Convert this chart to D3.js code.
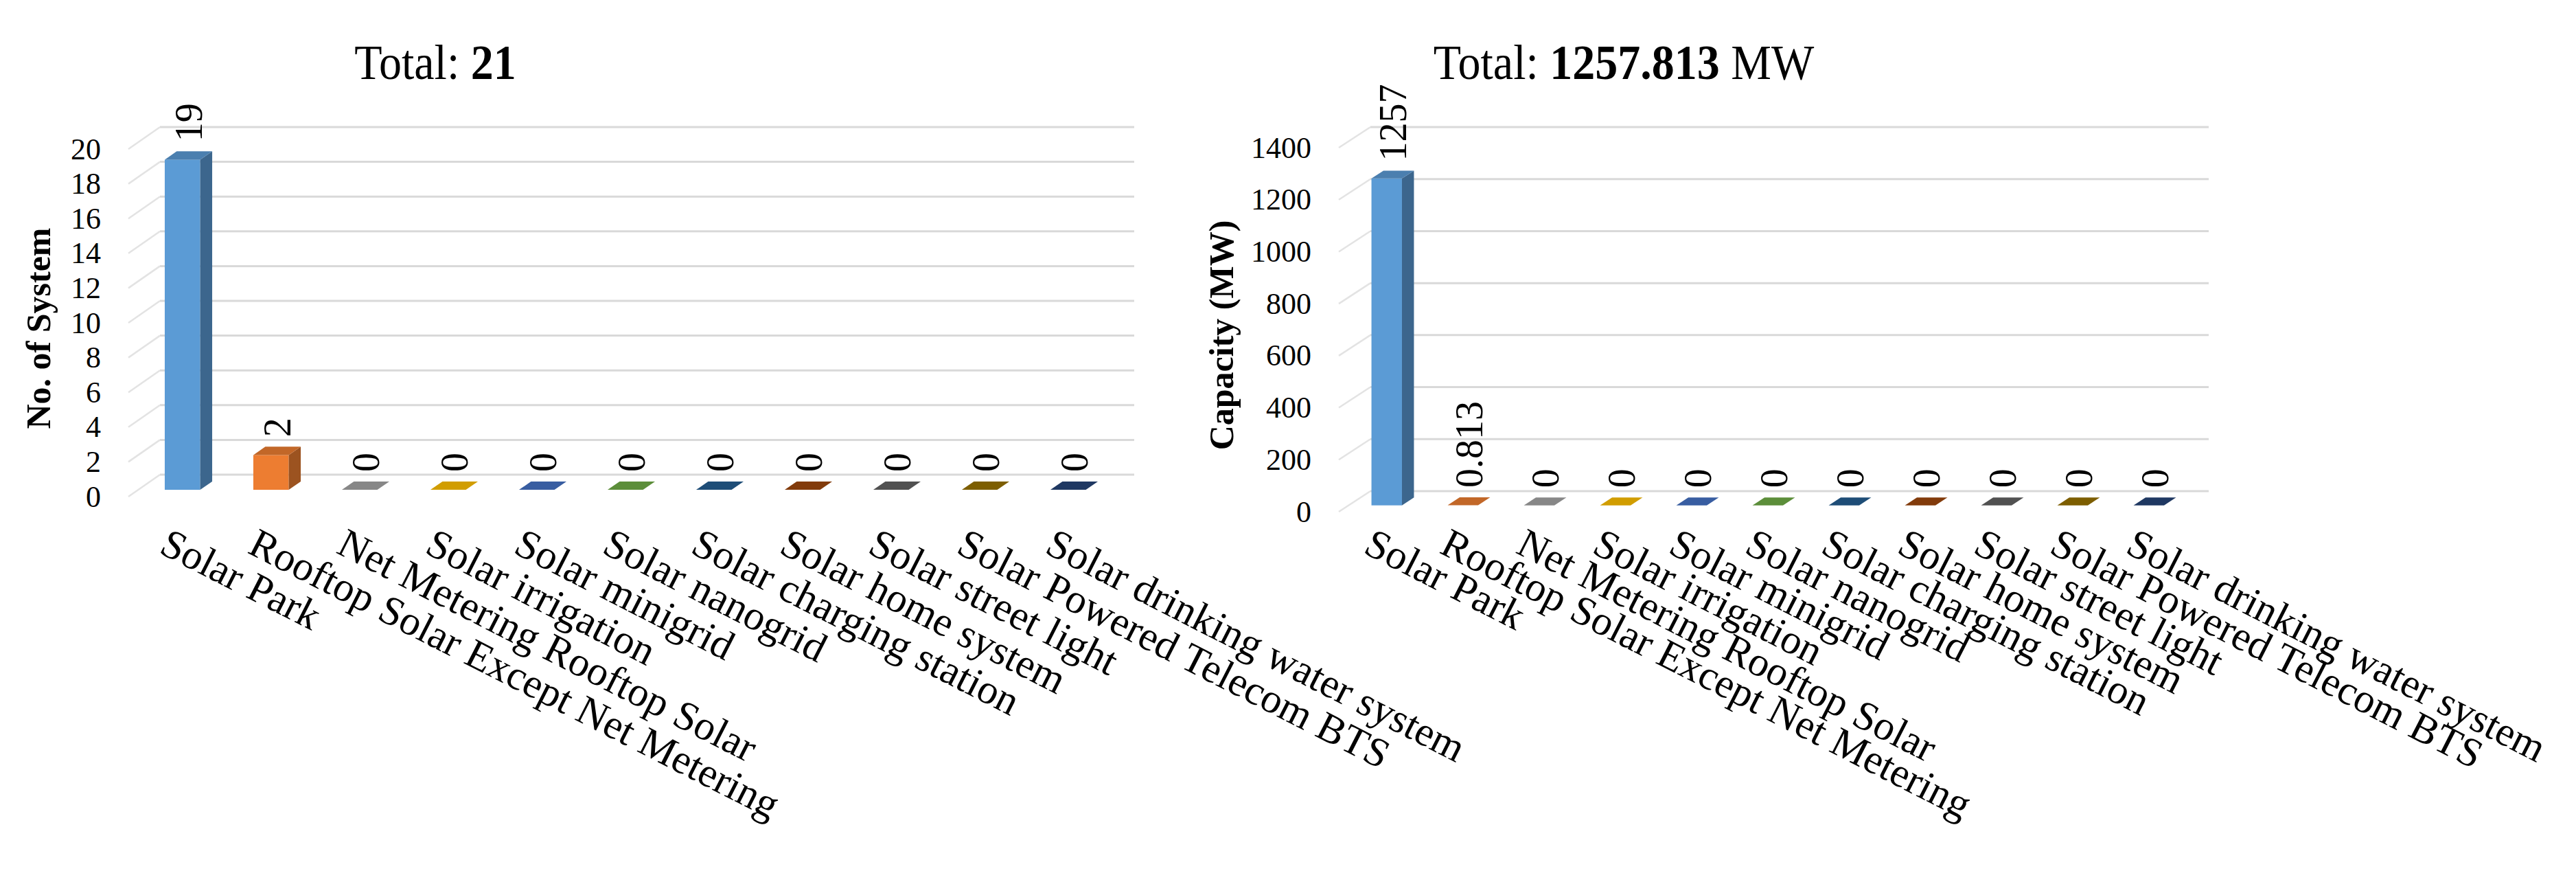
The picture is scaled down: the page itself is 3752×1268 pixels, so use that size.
<!DOCTYPE html>
<html>
<head>
<meta charset="utf-8">
<script src="https://cdn.jsdelivr.net/npm/d3@7"></script>
<style>
  html, body { margin: 0; padding: 0; background: #ffffff; }
  svg text { font-family: "Liberation Serif", "Times New Roman", serif; fill: #000; }
</style>
</head>
<body>
<svg id="chart" width="3752" height="1268"></svg>
<script>
// ---------- data ----------
const categories = [
  "Solar Park",
  "Rooftop Solar Except Net Metering",
  "Net Metering Rooftop Solar",
  "Solar irrigation",
  "Solar minigrid",
  "Solar nanogrid",
  "Solar charging station",
  "Solar home system",
  "Solar street light",
  "Solar Powered Telecom BTS",
  "Solar drinking water system"
];
const countValues = [19, 2, 0, 0, 0, 0, 0, 0, 0, 0, 0];
const countLabels = ["19", "2", "0", "0", "0", "0", "0", "0", "0", "0", "0"];
const capacityValues = [1257, 0.813, 0, 0, 0, 0, 0, 0, 0, 0, 0];
const capacityLabels = ["1257", "0.813", "0", "0", "0", "0", "0", "0", "0", "0", "0"];
const countTicks = [0, 2, 4, 6, 8, 10, 12, 14, 16, 18, 20];
const capacityTicks = [0, 200, 400, 600, 800, 1000, 1200, 1400];
const seriesColors = ["#5B9BD5", "#ED7D31", "#A5A5A5", "#FFC000", "#4472C4", "#70AD47",
                      "#255E91", "#9E480E", "#636363", "#997300", "#264478"];
const countTitle = { plain: "Total: ", bold: "21", tail: "" };
const capacityTitle = { plain: "Total: ", bold: "1257.813", tail: " MW" };
const countAxisTitle = "No. of System";
const capacityAxisTitle = "Capacity (MW)";

// ---------- drawing ----------
const svg = d3.select("#chart");

function shade(c, k) {
  const col = d3.rgb(c);
  return d3.rgb(col.r * k, col.g * k, col.b * k).formatHex();
}

function draw3DChart(opt) {
  const g = svg.append("g");
  const x = d3.scaleBand()
    .domain(opt.categories)
    .range([opt.x0, opt.x0 + opt.width])
    .paddingInner(0.6)
    .paddingOuter(0.3);
  const y = d3.scaleLinear()
    .domain([0, opt.yMax])
    .range([opt.y0, opt.y0 - opt.height]);
  const dX = opt.depthX, dY = opt.depthY;
  const f1 = 0.31, f2 = 0.69;

  // back wall gridlines + side wall diagonals
  g.selectAll("line.grid").data(opt.ticks).join("line")
    .attr("x1", opt.x0 + dX).attr("x2", opt.x0 + opt.width + dX)
    .attr("y1", d => y(d) + dY).attr("y2", d => y(d) + dY)
    .attr("stroke", "#d9d9d9").attr("stroke-width", 3);
  g.selectAll("line.side").data(opt.ticks).join("line")
    .attr("x1", opt.x0).attr("x2", opt.x0 + dX)
    .attr("y1", d => y(d)).attr("y2", d => y(d) + dY)
    .attr("stroke", "#e3e3e3").attr("stroke-width", 2.5);

  // tick labels
  g.selectAll("text.tick").data(opt.ticks).join("text")
    .attr("x", opt.x0 - 40)
    .attr("y", d => y(d))
    .attr("text-anchor", "end")
    .attr("dominant-baseline", "central")
    .style("font-size", "44px")
    .text(d => d);

  // bars
  const bw = x.bandwidth();
  const bdx = (f2 - f1) * dX, bdy = (f2 - f1) * dY;
  opt.values.forEach((v, i) => {
    const c = opt.colors[i];
    const xf = x(opt.categories[i]) + f1 * dX;
    const yb = y(0) + f1 * dY;
    const yt = y(v) + f1 * dY;
    const h = yb - yt;
    const bg = g.append("g");
    if (h > 1) {
      bg.append("rect").attr("x", xf).attr("y", yt).attr("width", bw).attr("height", h)
        .attr("fill", c);
      bg.append("path").attr("d",
        `M${xf + bw},${yt} L${xf + bw + bdx},${yt + bdy} L${xf + bw + bdx},${yb + bdy} L${xf + bw},${yb} Z`)
        .attr("fill", shade(c, 0.66));
    }
    bg.append("path").attr("d",
      `M${xf},${yt} L${xf + bw},${yt} L${xf + bw + bdx},${yt + bdy} L${xf + bdx},${yt + bdy} Z`)
      .attr("fill", shade(c, 0.82));

    // value label (rotated)
    const lx = xf + bw / 2 + bdx / 2;
    const ly = yt + bdy - 14;
    g.append("text")
      .attr("transform", `translate(${lx},${ly}) rotate(-90)`)
      .attr("text-anchor", "start")
      .attr("dominant-baseline", "central")
      .style("font-size", "56px")
      .text(opt.labels[i]);

    // category label
    const cx = xf + bw / 2 - 36;
    g.append("text")
      .attr("transform", `translate(${cx},${opt.catY}) rotate(27)`)
      .attr("text-anchor", "start")
      .style("font-size", "60px")
      .text(opt.categories[i]);
  });

  // axis title
  g.append("text")
    .attr("transform", `translate(${opt.axisTitleX},${opt.axisTitleY}) rotate(-90)`)
    .attr("text-anchor", "middle")
    .attr("dominant-baseline", "central")
    .style("font-size", "50px")
    .style("font-weight", "bold")
    .text(opt.axisTitle);

  // chart title
  const t = g.append("text")
    .attr("transform", `translate(${opt.titleX},115) scale(1,1.1)`)
    .attr("text-anchor", "middle")
    .style("font-size", "66px");
  t.append("tspan").text(opt.title.plain);
  t.append("tspan").style("font-weight", "bold").text(opt.title.bold);
  if (opt.title.tail) t.append("tspan").text(opt.title.tail);
}

draw3DChart({
  categories: categories, values: countValues, labels: countLabels,
  colors: seriesColors, ticks: countTicks, yMax: 20,
  x0: 187, width: 1419, y0: 723, height: 506,
  depthX: 46, depthY: -32, catY: 804,
  axisTitle: countAxisTitle, axisTitleX: 56, axisTitleY: 478,
  title: countTitle, titleX: 634
});

draw3DChart({
  categories: categories, values: capacityValues, labels: capacityLabels,
  colors: seriesColors, ticks: capacityTicks, yMax: 1400,
  x0: 1950, width: 1221, y0: 745, height: 530,
  depthX: 46, depthY: -30, catY: 804,
  axisTitle: capacityAxisTitle, axisTitleX: 1779, axisTitleY: 488,
  title: capacityTitle, titleX: 2365
});
</script>
</body>
</html>
